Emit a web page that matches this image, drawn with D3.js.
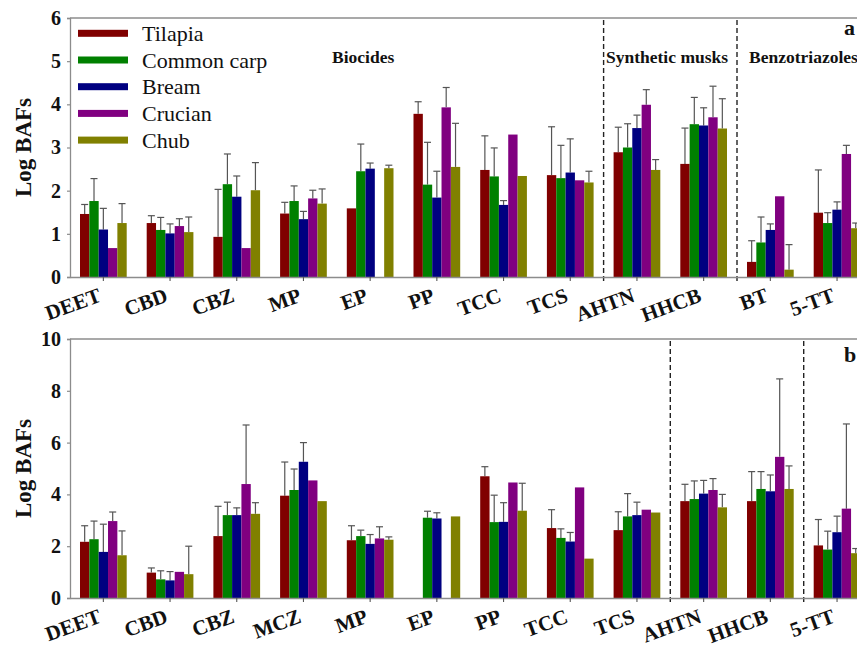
<!DOCTYPE html>
<html>
<head>
<meta charset="utf-8">
<script src="https://cdn.jsdelivr.net/npm/d3@7"></script>
<style>
  html, body { margin: 0; padding: 0; background: #fff; }
  svg { display: block; font-family: "Liberation Serif", "Times New Roman", serif; }
</style>
</head>
<body>
<svg id="chart" width="857" height="647"></svg>
<script>
// Species shown in both panels
const species = ["Tilapia", "Common carp", "Bream", "Crucian", "Chub"];
const speciesColors = ["#800000", "#008000", "#000080", "#800080", "#808000"];

// Panel a: compounds and log BAF means / upper standard deviations
const categoriesA = ["DEET", "CBD", "CBZ", "MP", "EP", "PP", "TCC", "TCS", "AHTN", "HHCB", "BT", "5-TT"];
const tilapiaA    = [1.46, 1.25, 0.93, 1.47, 1.59, 3.78, 2.48, 2.36, 2.89, 2.62, 0.35, 1.49];
const tilapiaErrA = [0.22, 0.17, 1.10, 0.26, null, 0.28, 0.79, 1.12, 0.58, 0.83, 0.49, 0.99];
const carpA       = [1.76, 1.09, 2.15, 1.76, 2.45, 2.14, 2.33, 2.29, 3.00, 3.54, 0.80, 1.25];
const carpErrA    = [0.52, 0.29, 0.70, 0.35, 0.63, 0.98, 0.66, 0.76, 0.55, 0.62, 0.59, 0.24];
const breamA      = [1.10, 1.01, 1.86, 1.34, 2.51, 1.84, 1.67, 2.42, 3.45, 3.51, 1.09, 1.56];
const breamErrA   = [0.49, 0.22, 0.48, 0.18, 0.13, 0.61, 0.10, 0.78, 0.30, 0.41, 0.14, 0.18];
const crucianA    = [0.67, 1.18, 0.67, 1.82, null, 3.93, 3.30, 2.24, 3.99, 3.70, 1.87, 2.85];
const crucianErrA = [null, 0.17, null, 0.19, null, 0.46, null, null, 0.35, 0.72, null, 0.20];
const chubA       = [1.25, 1.04, 2.01, 1.70, 2.52, 2.55, 2.34, 2.19, 2.48, 3.44, 0.17, 1.13];
const chubErrA    = [0.45, 0.35, 0.64, 0.34, 0.07, 1.01, null, 0.26, 0.24, 0.69, 0.58, 0.12];
const yTicksA = [0, 1, 2, 3, 4, 5, 6];
const groupsA = [
  { label: "Biocides", x: 332 },
  { label: "Synthetic musks", x: 606 },
  { label: "Benzotriazoles", x: 749 }
];
const dividersA = ["TCS", "HHCB"];

// Panel b
const categoriesB = ["DEET", "CBD", "CBZ", "MCZ", "MP", "EP", "PP", "TCC", "TCS", "AHTN", "HHCB", "5-TT"];
const tilapiaB    = [2.17, 0.98, 2.39, 3.95, 2.23, null, 4.70, 2.70, 2.62, 3.74, 3.74, 2.03];
const tilapiaErrB = [0.62, 0.18, 1.15, 1.30, 0.56, null, 0.37, 0.71, 0.71, 0.65, 1.14, 1.00];
const carpB       = [2.27, 0.72, 3.20, 4.17, 2.39, 3.10, 2.93, 2.32, 3.15, 3.82, 4.21, 1.87];
const carpErrB    = [0.70, 0.33, 0.50, 0.81, 0.23, 0.25, 1.04, 0.35, 0.88, 0.70, 0.67, 0.71];
const breamB      = [1.78, 0.68, 3.20, 5.26, 2.09, 3.07, 2.94, 2.18, 3.20, 4.03, 4.12, 2.54];
const breamErrB   = [1.07, 0.34, 0.28, 0.74, 0.36, 0.22, 0.74, 0.35, 0.50, 0.51, 0.63, 0.62];
const crucianB    = [2.97, 1.01, 4.40, 4.54, 2.30, null, 4.46, 4.27, 3.41, 4.17, 5.45, 3.45];
const crucianErrB = [0.35, null, 2.28, null, 0.45, null, null, null, null, 0.44, 3.01, 3.27];
const chubB       = [1.65, 0.92, 3.25, 3.74, 2.25, 3.15, 3.37, 1.52, 3.30, 3.50, 4.21, 1.73];
const chubErrB    = [0.94, 1.08, 0.43, null, 0.11, null, 1.06, null, null, 0.50, 0.89, 0.18];
const yTicksB = [0, 2, 4, 6, 8, 10];
const dividersB = ["TCS", "HHCB"];

const svg = d3.select("#chart");
const serif = "Liberation Serif";
const axisColor = "#8c8c8c";
const step = 66.7;
const left = 70;

function drawPanel(opts) {
  const { cats, values, errors, yMax, yTicks, top, bottom, tag, tagY, groups, dividers } = opts;
  const g = svg.append("g");

  const x0 = d3.scaleBand().domain(cats).range([left, left + step * cats.length]).padding(0);
  const x1 = d3.scaleBand().domain(species).range([0, x0.bandwidth()]).paddingInner(0).paddingOuter(1.07);
  const y = d3.scaleLinear().domain([0, yMax]).range([bottom, top]);

  // top frame line
  g.append("line")
    .attr("x1", left).attr("x2", 900).attr("y1", top).attr("y2", top)
    .attr("stroke", axisColor).attr("stroke-width", 1.3);

  // bars with upper error whiskers
  species.forEach((sp, si) => {
    const rows = cats.map((c, i) => ({ c, v: values[si][i], e: errors[si][i] }));
    const eg = g.append("g").attr("stroke", "#555").attr("stroke-width", 1.2);
    rows.filter(d => d.v != null && d.e != null).forEach(d => {
      const cx = x0(d.c) + x1(sp) + x1.bandwidth() / 2;
      eg.append("line").attr("x1", cx).attr("x2", cx).attr("y1", y(d.v)).attr("y2", y(d.v + d.e));
      eg.append("line").attr("x1", cx - 3.5).attr("x2", cx + 3.5).attr("y1", y(d.v + d.e)).attr("y2", y(d.v + d.e));
    });
    g.append("g").selectAll("rect")
      .data(rows.filter(d => d.v != null))
      .join("rect")
      .attr("x", d => x0(d.c) + x1(sp))
      .attr("width", x1.bandwidth())
      .attr("y", d => y(d.v))
      .attr("height", d => y(0) - y(d.v))
      .attr("fill", speciesColors[si]);
  });

  // dashed dividers between compound classes
  dividers.forEach(c => {
    const xx = x0(c) + x0.bandwidth();
    g.append("line")
      .attr("x1", xx).attr("x2", xx).attr("y1", top + 2).attr("y2", bottom + 4)
      .attr("stroke", "#222").attr("stroke-width", 1.4).attr("stroke-dasharray", "5,3");
  });

  // y axis
  const yAxis = d3.axisLeft(y).tickValues(yTicks).tickSize(3).tickPadding(6).tickFormat(d3.format("d"));
  const ya = g.append("g").attr("transform", `translate(${left},0)`).call(yAxis);
  ya.attr("font-family", serif);
  ya.select(".domain").attr("stroke", axisColor).attr("stroke-width", 1.3);
  ya.selectAll(".tick line").attr("stroke", axisColor).attr("stroke-width", 1.2);
  ya.selectAll(".tick text")
    .attr("font-family", serif).attr("font-weight", "bold")
    .attr("font-size", 20).attr("fill", "#111");

  // x axis
  const xAxis = d3.axisBottom(x0).tickSize(4).tickSizeOuter(0);
  const xa = g.append("g").attr("transform", `translate(0,${bottom})`).call(xAxis);
  xa.attr("font-family", serif);
  xa.select(".domain").attr("stroke", axisColor).attr("stroke-width", 1.3);
  xa.selectAll(".tick line").attr("stroke", "#555").attr("stroke-width", 1.1);
  xa.selectAll(".tick text")
    .attr("font-family", serif).attr("font-weight", "bold")
    .attr("font-size", 21).attr("fill", "#111")
    .attr("text-anchor", "end")
    .attr("dy", null).attr("y", null)
    .attr("transform", "translate(-1,24) rotate(-20)");

  // y title
  g.append("text")
    .attr("transform", `translate(31,${(top + bottom) / 2}) rotate(-90)`)
    .attr("text-anchor", "middle")
    .attr("font-family", serif)
    .attr("font-weight", "bold").attr("font-size", 23).attr("fill", "#111")
    .text("Log BAFs");

  // class labels
  groups.forEach(gr => {
    g.append("text").attr("x", gr.x).attr("y", top + 45)
      .attr("font-family", serif)
      .attr("font-weight", "bold").attr("font-size", 17.5).attr("fill", "#111")
      .text(gr.label);
  });

  // panel tag
  g.append("text").attr("x", 844).attr("y", tagY)
    .attr("font-family", serif)
    .attr("font-weight", "bold").attr("font-size", 22).attr("fill", "#111")
    .text(tag);
}

drawPanel({
  cats: categoriesA,
  values: [tilapiaA, carpA, breamA, crucianA, chubA],
  errors: [tilapiaErrA, carpErrA, breamErrA, crucianErrA, chubErrA],
  yMax: 6, yTicks: yTicksA, top: 18, bottom: 277,
  tag: "a", tagY: 35, groups: groupsA, dividers: dividersA
});

drawPanel({
  cats: categoriesB,
  values: [tilapiaB, carpB, breamB, crucianB, chubB],
  errors: [tilapiaErrB, carpErrB, breamErrB, crucianErrB, chubErrB],
  yMax: 10, yTicks: yTicksB, top: 339, bottom: 598,
  tag: "b", tagY: 362, groups: [], dividers: dividersB
});

// legend
const legend = svg.append("g");
species.forEach((sp, i) => {
  const cy = 33.3 + i * 26.7;
  legend.append("rect").attr("x", 78).attr("y", cy - 3.5).attr("width", 50).attr("height", 7)
    .attr("fill", speciesColors[i]);
  legend.append("text").attr("x", 142).attr("y", cy + 7.5)
    .attr("font-family", serif)
    .attr("font-size", 22).attr("fill", "#111").text(sp);
});
</script>
</body>
</html>
